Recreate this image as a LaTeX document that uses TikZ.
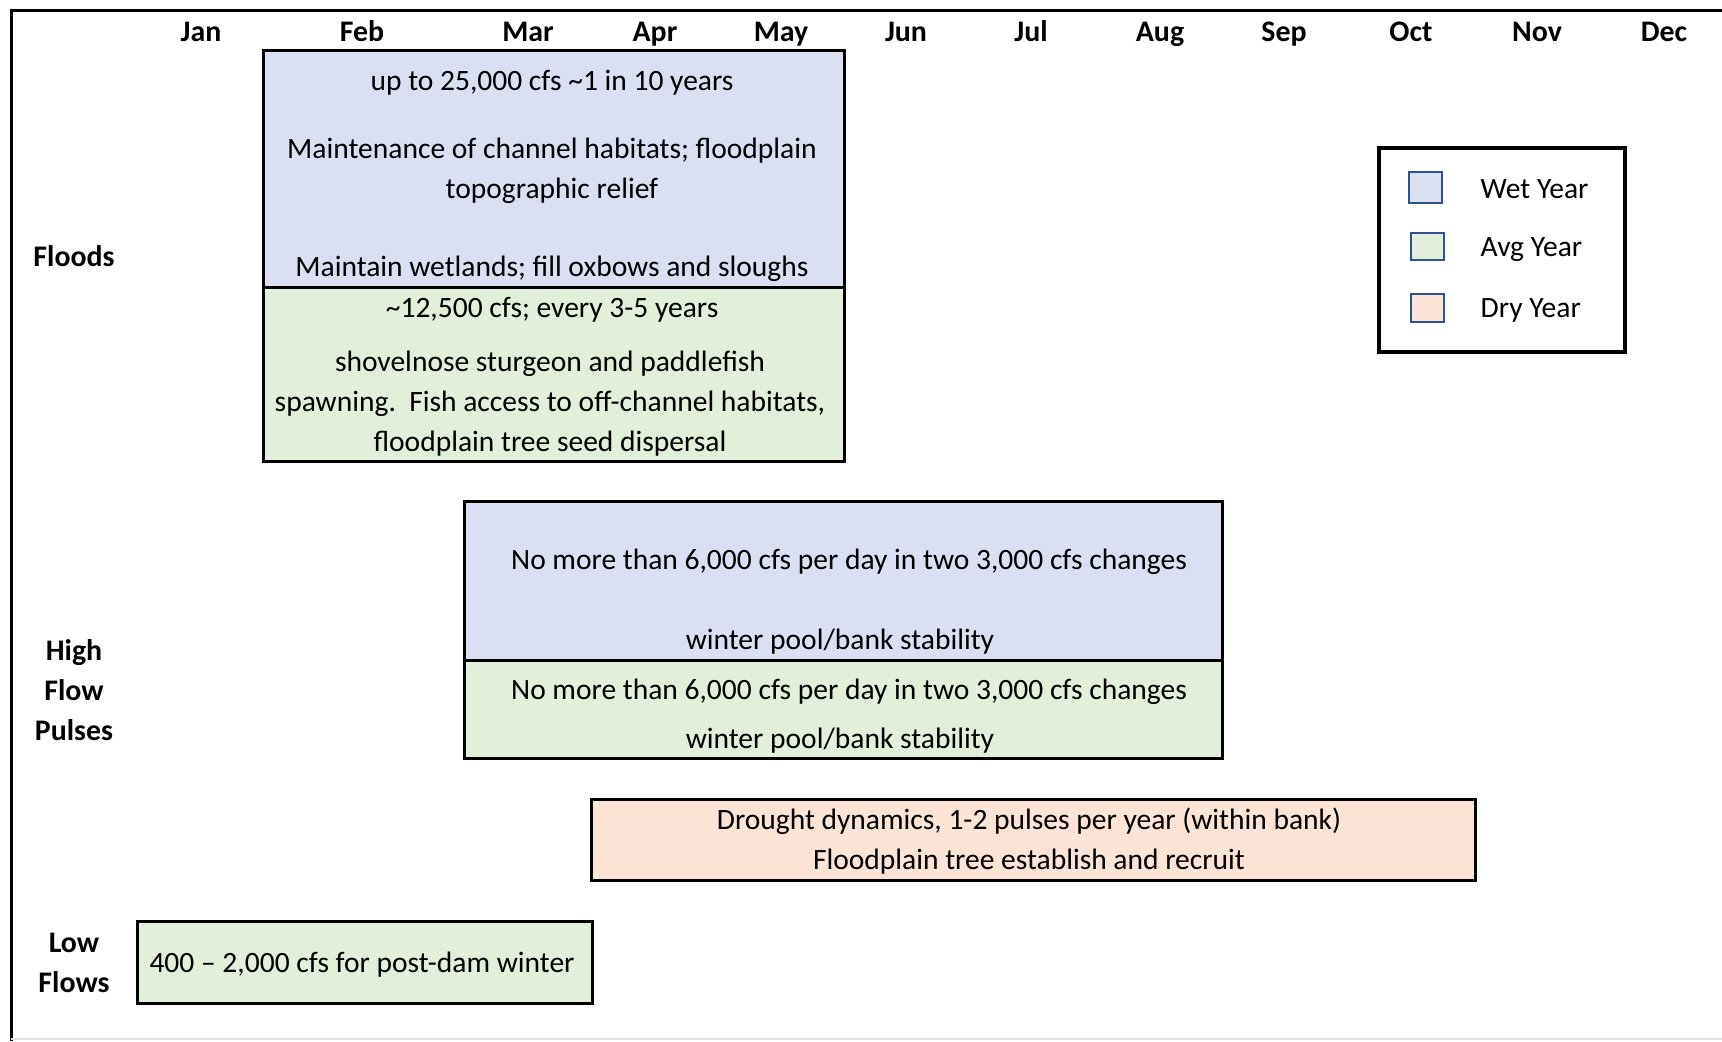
\documentclass[tikz,border=0pt]{standalone}
\usepackage{fontspec}
\setmainfont{Carlito}
\usepackage{xcolor}
\usetikzlibrary{positioning}
\definecolor{wetfill}{HTML}{DAE0F2}
\definecolor{avgfill}{HTML}{E2EFDA}
\definecolor{dryfill}{HTML}{FBE3D6}
\definecolor{keyline}{HTML}{2F528F}
\tikzset{
  band/.style={draw, line width=0.3mm, inner sep=0pt, anchor=north west},
  txt/.style={font=\fontsize{8.4}{11.4}\selectfont, inner sep=0pt, anchor=mid, align=center, yshift=-0.2mm},
  month/.style={txt, font=\fontsize{8.5}{11.4}\selectfont\bfseries},
  rowlabel/.style={month},
  swatch/.style={draw=keyline, line width=0.22mm, inner sep=0pt, anchor=north west},
  keytext/.style={txt, anchor=mid west}
}

\begin{document}
\begin{tikzpicture}[x=0.1mm, y=-0.1mm]
  \useasboundingbox (0,0) rectangle (1722,1041);
  % frame
  \draw[line width=0.3mm] (11,1041) -- (11,10) -- (1722,10);
  \draw[black!12, line width=0.2mm] (11,1039) -- (1722,1039);

  % months
  \foreach \m/\x in {Jan/201, Feb/362, Mar/528, Apr/655, May/781, Jun/906,
                     Jul/1031, Aug/1160, Sep/1284, Oct/1411, Nov/1537, Dec/1664}
    \node[month] (m\m) at (\x,31) {\m};

  % row labels (multi-line nodes sit on their last line)
  \node[rowlabel] (floods) at (74,256) {Floods};
  \node[rowlabel] (pulses) at (74,730) {High\\Flow\\Pulses};
  \node[rowlabel] (lowflows) at (74,982) {Low\\Flows};

  % floods
  \node[band, fill=wetfill, minimum width=58.1mm, minimum height=23.7mm] (fwet) at (262,49) {};
  \node[band, fill=avgfill, minimum width=58.1mm, minimum height=17.4mm] (favg) at (262,286) {};
  \node[txt] (fwetA) at (552,80) {up to 25,000 cfs \textasciitilde 1 in 10 years};
  \node[txt] (fwetB) at (552,188) {Maintenance of channel habitats; floodplain\\topographic relief};
  \node[txt] (fwetC) at (552,266) {Maintain wetlands; fill oxbows and sloughs};
  \node[txt] (favgA) at (552,307) {\textasciitilde 12,500 cfs; every 3-5 years};
  \node[txt] (favgB) at (550,441) {shovelnose sturgeon and paddlefish\\spawning.\ \ Fish access to off-channel habitats,\\floodplain tree seed dispersal};

  % high flow pulses
  \node[band, fill=wetfill, minimum width=75.8mm, minimum height=15.9mm] (pwet) at (463,500) {};
  \node[band, fill=avgfill, minimum width=75.8mm, minimum height=9.8mm] (pavg) at (463,659) {};
  \node[txt] (pwetA) at (849,559) {No more than 6,000 cfs per day in two 3,000 cfs changes};
  \node[txt] (pwetB) at (840,639) {winter pool/bank stability};
  \node[txt] (pavgA) at (849,689) {No more than 6,000 cfs per day in two 3,000 cfs changes};
  \node[txt] (pavgB) at (840,738) {winter pool/bank stability};

  % dry year pulses
  \node[band, fill=dryfill, minimum width=88.4mm, minimum height=8.1mm] (pdry) at (590,798) {};
  \node[txt] (pdryA) at (1029,859) {Drought dynamics, 1-2 pulses per year (within bank)\\Floodplain tree establish and recruit};

  % low flows
  \node[band, fill=avgfill, minimum width=45.5mm, minimum height=8.2mm] (lavg) at (136,920) {};
  \node[txt] (lavgA) at (362,962) {400 – 2,000 cfs for post-dam winter};

  % legend
  \node[band, line width=0.4mm, minimum width=24.6mm, minimum height=20.4mm] (key) at (1377,146) {};
  \node[swatch, fill=wetfill, minimum width=3.3mm, minimum height=3.1mm] (kwet) at (1408,171) {};
  \node[swatch, fill=avgfill, minimum width=3.3mm, minimum height=2.7mm] (kavg) at (1410,232) {};
  \node[swatch, fill=dryfill, minimum width=3.3mm, minimum height=2.8mm] (kdry) at (1410,293) {};
  \node[keytext] (kwetT) at (1480,188) {Wet Year};
  \node[keytext] (kavgT) at (1480,246) {Avg Year};
  \node[keytext] (kdryT) at (1480,307) {Dry Year};
\end{tikzpicture}
\end{document}
